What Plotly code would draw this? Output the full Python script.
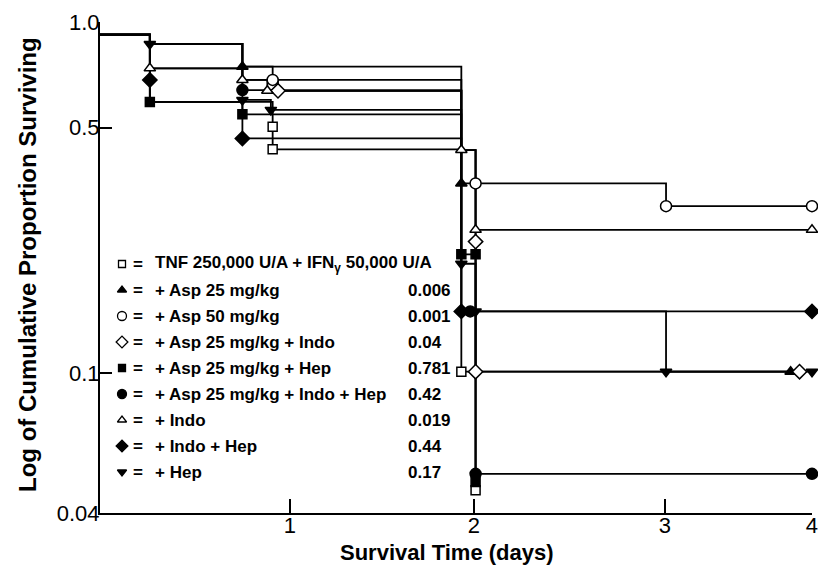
import math
import plotly.graph_objects as go

# ---------------- data (x in axis units, y = cumulative proportion surviving) ----------------
X_TICK_POS = [1.067, 2.101, 3.174, 3.999]
X_TICK_TEXT = ["1", "2", "3", "4"]
Y_TICK_VALS = [0.04, 0.1, 0.5, 1.0]
Y_TICK_TEXT = ["0.04", "0.1", "0.5", "1.0"]
X_TITLE = "Survival Time (days)"
Y_TITLE = "Log of Cumulative Proportion Surviving"

group_names = [
    "TNF 250,000 U/A + IFN<sub>γ</sub> 50,000 U/A",
    "+ Asp 25 mg/kg",
    "+ Asp 50 mg/kg",
    "+ Asp 25 mg/kg + Indo",
    "+ Asp 25 mg/kg + Hep",
    "+ Asp 25 mg/kg + Indo + Hep",
    "+ Indo",
    "+ Indo + Hep",
    "+ Hep",
]
p_values = ["", "0.006", "0.001", "0.04", "0.781", "0.42", "0.019", "0.44", "0.17"]

# step times / survival per group, and whether each event is marked with the symbol
ctrl_t = [0, 0.28, 0.97, 0.97, 2.03, 2.11]
ctrl_s = [0.92, 0.592, 0.503, 0.434, 0.101, 0.0464]
ctrl_m = [0, 0, 1, 1, 1, 1]

asp25_t = [0, 0.28, 0.80, 2.03, 2.11, 3.88]
asp25_s = [0.92, 0.866, 0.746, 0.347, 0.101, 0.101]
asp25_m = [0, 0, 1, 1, 0, 1]

asp50_t = [0, 0.28, 0.80, 0.97, 2.03, 2.11, 3.18, 4.0]
asp50_s = [0.92, 0.866, 0.746, 0.684, 0.432, 0.347, 0.299, 0.299]
asp50_m = [0, 0, 0, 1, 0, 1, 1, 1]

asp25_indo_t = [0, 0.28, 0.80, 1.0, 2.03, 2.11, 2.11, 3.93]
asp25_indo_s = [0.92, 0.738, 0.684, 0.637, 0.432, 0.237, 0.101, 0.101]
asp25_indo_m = [0, 0, 0, 1, 0, 1, 1, 1]

asp25_hep_t = [0, 0.28, 0.80, 2.03, 2.11, 2.11]
asp25_hep_s = [0.92, 0.592, 0.546, 0.218, 0.218, 0.049]
asp25_hep_m = [0, 1, 1, 1, 1, 1]

asp25_indo_hep_t = [0, 0.28, 0.80, 2.03, 2.08, 2.11, 4.0]
asp25_indo_hep_s = [0.92, 0.866, 0.640, 0.150, 0.150, 0.0517, 0.0517]
asp25_indo_hep_m = [0, 0, 1, 0, 1, 1, 1]

indo_t = [0, 0.28, 0.80, 0.94, 2.03, 2.11, 4.0]
indo_s = [0.92, 0.738, 0.684, 0.637, 0.432, 0.256, 0.256]
indo_m = [0, 1, 1, 1, 1, 1, 1]

indo_hep_t = [0, 0.28, 0.28, 0.80, 2.03, 4.0]
indo_hep_s = [0.92, 0.684, 0.592, 0.466, 0.150, 0.150]
indo_hep_m = [0, 1, 0, 1, 1, 1]

hep_t = [0, 0.28, 0.80, 0.96, 2.03, 2.11, 3.18, 4.0]
hep_s = [0.92, 0.866, 0.600, 0.562, 0.205, 0.150, 0.101, 0.101]
hep_m = [0, 1, 1, 1, 1, 1, 1, 1]

series = [
    (ctrl_t, ctrl_s, ctrl_m, "square", False),
    (asp25_t, asp25_s, asp25_m, "triangle-up", True),
    (asp50_t, asp50_s, asp50_m, "circle", False),
    (asp25_indo_t, asp25_indo_s, asp25_indo_m, "diamond", False),
    (asp25_hep_t, asp25_hep_s, asp25_hep_m, "square", True),
    (asp25_indo_hep_t, asp25_indo_hep_s, asp25_indo_hep_m, "circle", True),
    (indo_t, indo_s, indo_m, "triangle-up", False),
    (indo_hep_t, indo_hep_s, indo_hep_m, "diamond", True),
    (hep_t, hep_s, hep_m, "triangle-down", True),
]

FONT = "Liberation Sans, Arial, Helvetica, sans-serif"
MSIZE = {"square": 9, "triangle-up": 10, "circle": 11, "diamond": 11, "triangle-down": 10}

fig = go.Figure()

# step lines
for t, s, m, sym, filled in series:
    fig.add_trace(go.Scatter(x=t, y=s, mode="lines", line=dict(color="black", width=1.8, shape="hv"),
                             hoverinfo="skip"))

# markers
for t, s, m, sym, filled in series:
    mx = [ti for ti, mi in zip(t, m) if mi]
    my = [si for si, mi in zip(s, m) if mi]
    fig.add_trace(go.Scatter(
        x=mx, y=my, mode="markers", cliponaxis=False,
        marker=dict(symbol=sym, size=MSIZE[sym], color="black" if filled else "white",
                    line=dict(color="black", width=1.5)),
        hoverinfo="skip"))

# ---------------- legend drawn inside the plot ----------------
PLOT_L, PLOT_R, PLOT_T, PLOT_B = 100, 812, 22, 513
def fx(px):
    return (px - PLOT_L) / (PLOT_R - PLOT_L)
def fy(py):
    return (PLOT_B - py) / (PLOT_B - PLOT_T)

row_y = [fy(264 + 26.0 * i) for i in range(len(group_names))]
for i, (t, s, m, sym, filled) in enumerate(series):
    fig.add_trace(go.Scatter(
        x=[fx(122)], y=[row_y[i]], mode="markers", xaxis="x2", yaxis="y2",
        marker=dict(symbol=sym, size=MSIZE[sym] - 2, color="black" if filled else "white",
                    line=dict(color="black", width=1.3)),
        hoverinfo="skip"))

annotations = []
for i, name in enumerate(group_names):
    annotations.append(dict(x=fx(131), y=row_y[i], xref="paper", yref="paper", text="=",
                            showarrow=False, xanchor="left", yanchor="middle",
                            font=dict(family=FONT, size=17, color="black", weight="bold")))
    annotations.append(dict(x=fx(153), y=row_y[i], xref="paper", yref="paper", text=name,
                            showarrow=False, xanchor="left", yanchor="middle",
                            font=dict(family=FONT, size=17, color="black", weight="bold")))
    if p_values[i]:
        annotations.append(dict(x=fx(406), y=row_y[i], xref="paper", yref="paper", text=p_values[i],
                                showarrow=False, xanchor="left", yanchor="middle",
                                font=dict(family=FONT, size=17, color="black", weight="bold")))

# axis titles
annotations.append(dict(x=fx(447), y=fy(552), xref="paper", yref="paper", text=X_TITLE,
                        showarrow=False, xanchor="center", yanchor="middle",
                        font=dict(family=FONT, size=22, color="black", weight="bold")))
annotations.append(dict(x=fx(27), y=fy(265), xref="paper", yref="paper", text=Y_TITLE,
                        showarrow=False, xanchor="center", yanchor="middle", textangle=-90,
                        font=dict(family=FONT, size=24, color="black", weight="bold")))

fig.update_layout(
    width=818, height=572,
    margin=dict(l=PLOT_L, r=818 - PLOT_R, t=PLOT_T, b=572 - PLOT_B),
    plot_bgcolor="white", paper_bgcolor="white",
    showlegend=False,
    annotations=annotations,
    xaxis=dict(range=[0, 4], tickvals=X_TICK_POS, ticktext=X_TICK_TEXT, automargin=False,
               ticks="inside", ticklen=14, tickwidth=1.5, tickcolor="black",
               ticklabelstandoff=-8,
               showline=True, linewidth=2, linecolor="black", mirror=False,
               showgrid=False, zeroline=False,
               tickfont=dict(family=FONT, size=22, color="black")),
    yaxis=dict(type="log", range=[math.log10(0.04), 0.0], tickvals=Y_TICK_VALS, ticktext=Y_TICK_TEXT,
               automargin=False,
               ticks="inside", ticklen=12, tickwidth=1.5, tickcolor="black",
               ticklabelstandoff=-6,
               showline=True, linewidth=2, linecolor="black",
               showgrid=False, zeroline=False,
               tickfont=dict(family=FONT, size=22, color="black")),
    xaxis2=dict(overlaying="x", range=[0, 1], visible=False, fixedrange=True),
    yaxis2=dict(overlaying="y", range=[0, 1], visible=False, fixedrange=True),
)

fig.write_html("out.html")
